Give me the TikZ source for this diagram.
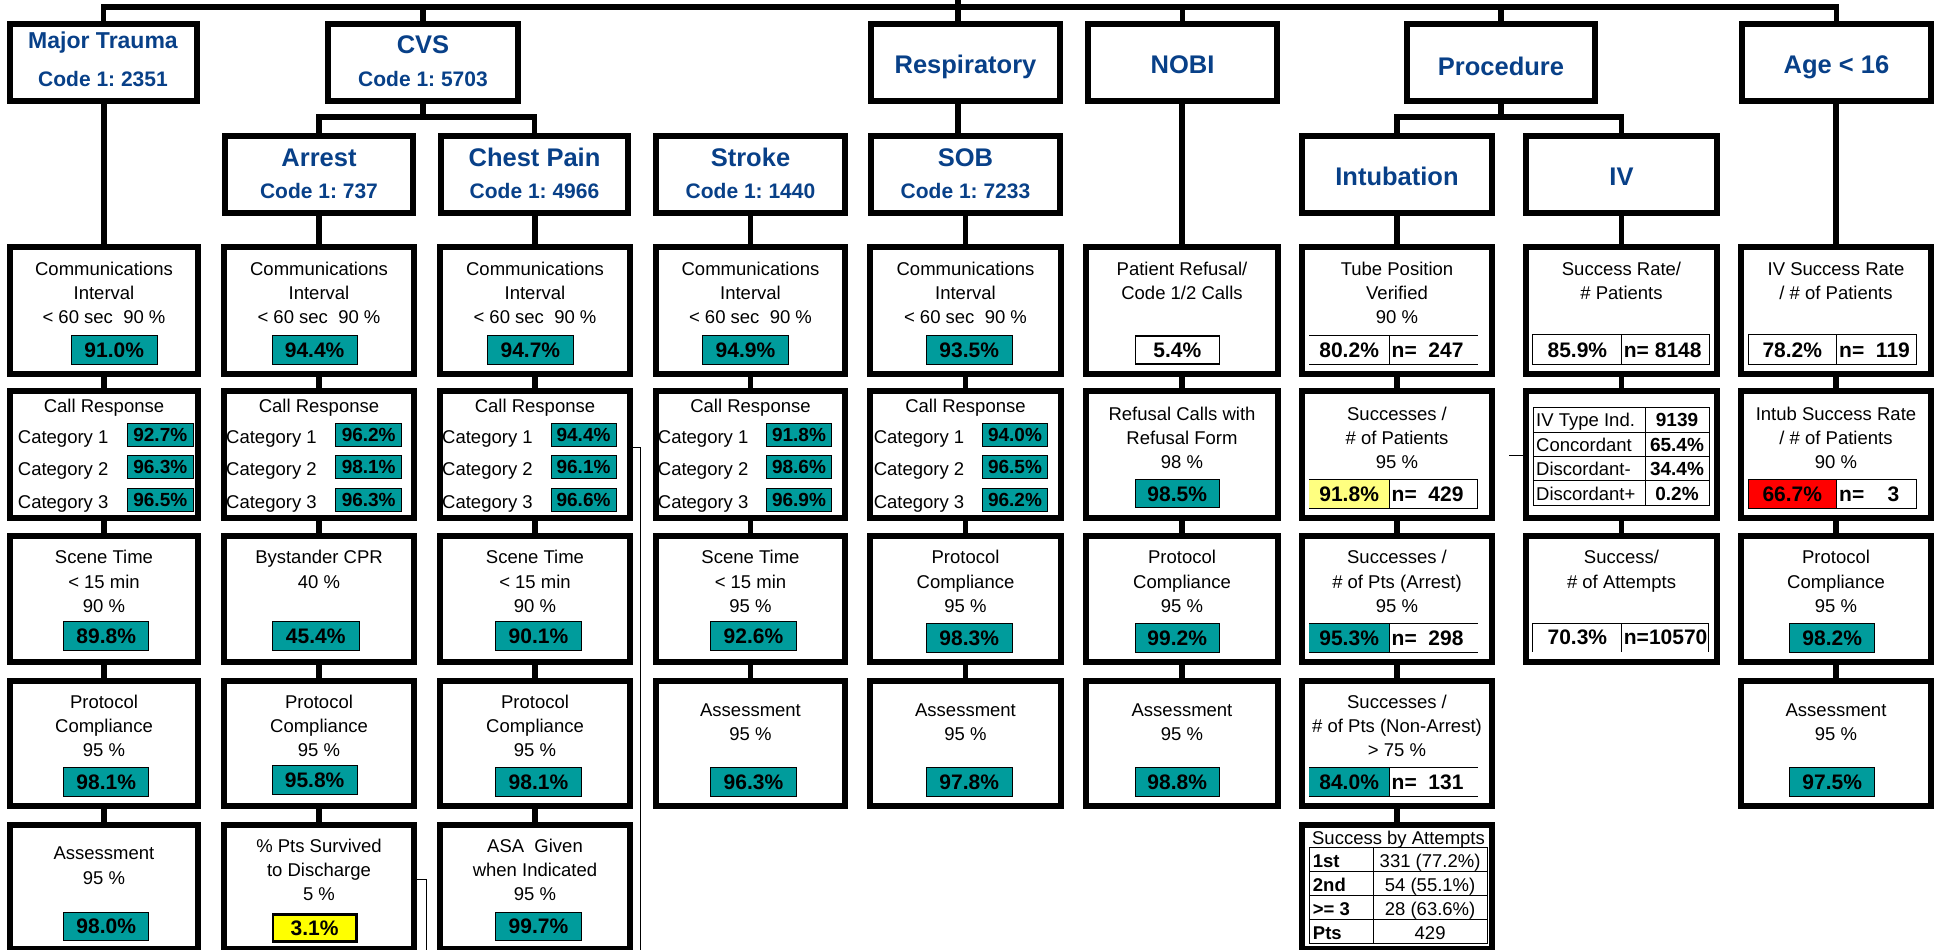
\documentclass[tikz,border=0pt]{standalone}
\usepackage{fontspec}
\setmainfont{Liberation Sans}
\frenchspacing
\definecolor{teal2}{HTML}{009C9C}
\definecolor{hblue}{HTML}{084088}
\definecolor{lyel}{HTML}{FFFF80}
\definecolor{yel}{HTML}{FFFF00}
\definecolor{red2}{HTML}{FF0000}
\newcommand\fbody{\fontsize{18.5}{22}\selectfont}
\newcommand\fbodyb{\fontsize{18.5}{22}\selectfont\bfseries}
\newcommand\fval{\fontsize{21}{25}\selectfont\bfseries}
\newcommand\fcat{\fontsize{19}{23}\selectfont\bfseries}
\newcommand\fhead{\fontsize{25.5}{30}\selectfont\bfseries}
\newcommand\fcode{\fontsize{21}{25}\selectfont\bfseries}
\tikzset{
 bxs/.style={draw=black, line width=6pt, fill=white, inner sep=0pt, rectangle},
 conn/.style={draw=black, line width=5.5pt},
 thinln/.style={draw=black, line width=1pt},
 txt/.style={inner sep=0pt, font=\fbody, text=black},
 htxt/.style={inner sep=0pt, font=\fhead, text=hblue, anchor=base},
 ctxt/.style={inner sep=0pt, font=\fcode, text=hblue, anchor=base},
 vbox/.style={draw=black, line width=1pt, inner sep=0pt, rectangle, font=\fval},
 cbox/.style={draw=black, line width=1pt, inner sep=0pt, rectangle, font=\fcat, fill=teal2},
 cell/.style={inner sep=0pt, rectangle, font=\fval},
 ntxt/.style={inner sep=0pt, font=\fval, anchor=west},
 gcell/.style={draw=black, line width=1pt, inner sep=0pt, rectangle},
}
\newcommand\myBX[5]{\node[bxs, minimum width={(#4-#2-6)*1pt}, minimum height={(#5-#3-6)*1pt}] (#1) at ({(#2+#4)/2},{(#3+#5)/2}) {};}
\newcommand\myTX[4]{\node[txt, anchor=base] (#1) at (#2,#3) {#4};}
\newcommand\myTL[4]{\node[txt, anchor=base west] (#1) at (#2,#3) {#4};}
\newcommand\myVB[7]{\node[vbox, fill=#6, minimum width={(#4-#2-1)*1pt}, minimum height={(#5-#3-1)*1pt}] (#1) at ({(#2+#4)/2},{(#3+#5)/2}) {#7};}
\newcommand\myCB[6]{\node[cbox, minimum width={(#4-#2-1)*1pt}, minimum height={(#5-#3-1)*1pt}] (#1) at ({(#2+#4)/2},{(#3+#5)/2}) {#6};}
\newcommand\myTT[8]{%
 \node[cell, fill=#7, minimum width={(#3-#2)*1pt}, minimum height={(#6-#5)*1pt}] (#1L) at ({(#2+#3)/2},{(#5+#6)/2}) {#8};
 \node[cell, minimum width={(#4-#3)*1pt}, minimum height={(#6-#5)*1pt}] (#1R) at ({(#3+#4)/2},{(#5+#6)/2}) {};}
\newcommand\myTwo[6]{\myTX{#1a}{#2}{#3}{#5}\myTX{#1b}{#2}{#4}{#6}}
\newcommand\myThree[8]{\myTX{#1a}{#2}{#3}{#6}\myTX{#1b}{#2}{#4}{#7}\myTX{#1c}{#2}{#5}{#8}}
\newcommand\myComm[5]{%
 \myThree{c#1r1}{#2}{275.5}{299.2}{323.5}{Communications}{Interval}{< 60 sec\ \ 90 \%}
 \myVB{c#1r1v}{#3}{335.3}{#4}{364.7}{teal2}{#5\%}}
\newcommand\myCall[8]{%
 \myTX{c#1r2a}{#2}{412.2}{Call Response}
 \myTL{c#1r2l1}{#3}{443.2}{Category 1}
 \myTL{c#1r2l2}{#3}{475.5}{Category 2}
 \myTL{c#1r2l3}{#3}{508.2}{Category 3}
 \myCB{c#1r2v1}{#4}{423}{#5}{447.3}{#6\%}
 \myCB{c#1r2v2}{#4}{455}{#5}{479}{#7\%}
 \myCB{c#1r2v3}{#4}{488}{#5}{512}{#8\%}}

\begin{document}
\begin{tikzpicture}[x=1pt,y=-1pt]
\fill[white] (0,0) rectangle (1936,950);
\useasboundingbox (0,0) rectangle (1936,950);

% heading boxes
\myBX{mt}{7}{21}{200}{104}
\myBX{cvs}{325}{21}{521}{104}
\myBX{resp}{868}{21}{1063}{104}
\myBX{nobi}{1085}{21}{1280}{104}
\myBX{proc}{1404}{21}{1598}{104}
\myBX{age}{1739}{21}{1934}{104}
\myBX{arr}{222}{133}{416}{216}
\myBX{chp}{438}{133}{631}{216}
\myBX{strk}{653}{133}{848}{216}
\myBX{sob}{868}{133}{1063}{216}
\myBX{intu}{1299}{133}{1495}{216}
\myBX{iv}{1523}{133}{1720}{216}

% row boxes
\foreach \cc/\xa/\xb/\nr in {1/7/201/5,2/221/417/5,3/437/633/5,4/653/848/4,5/867/1064/4,6/1083/1281/4,7/1299/1495/5,8/1523/1720/3,9/1738/1934/4}{
  \foreach \rr/\ya/\yb in {1/244/377,2/388/521,3/533/665,4/678/809,5/822/952}{
    \ifnum\rr>\nr\relax\else\myBX{c\cc r\rr}{\xa}{\ya}{\xb}{\yb}\fi
  }
}

% connectors
\coordinate (bar) at (0,7);
\coordinate (root) at (958,0);
\draw[conn] (mt.north) |- (age.north |- bar) -- (age.north);
\draw[conn] (root) -- (root |- resp.north);
\draw[conn] (cvs.north) -- (cvs.north |- bar);
\draw[conn] (nobi.north) -- (nobi.north |- bar);
\draw[conn] (proc.north) -- (proc.north |- bar);
\coordinate (cvsj) at (423,117);
\draw[conn] (cvs.south) -- (cvsj);
\draw[conn] (arr.north) |- (cvsj) -| (chp.north);
\coordinate (procj) at (1501,117);
\draw[conn] (proc.south) -- (procj);
\draw[conn] (intu.north) |- (procj) -| (iv.north);
\draw[conn] (root |- resp.south) -- (root |- sob.north);
\draw[conn] (c1r1.north |- mt.south) -- (c1r1.north);
\draw[conn] (c2r1.north |- arr.south) -- (c2r1.north);
\draw[conn] (c3r1.north |- chp.south) -- (c3r1.north);
\draw[conn] (c4r1.north |- strk.south) -- (c4r1.north);
\draw[conn] (c5r1.north |- sob.south) -- (c5r1.north);
\draw[conn] (c6r1.north |- nobi.south) -- (c6r1.north);
\draw[conn] (c7r1.north |- intu.south) -- (c7r1.north);
\draw[conn] (c8r1.north |- iv.south) -- (c8r1.north);
\draw[conn] (c9r1.north |- age.south) -- (c9r1.north);
\foreach \cc/\nr in {1/5,2/5,3/5,4/4,5/4,6/4,7/5,8/3,9/4}{
  \foreach \rr in {2,...,\nr}{
    \pgfmathtruncatemacro\pr{\rr-1}
    \draw[conn] (c\cc r\pr.south) -- (c\cc r\rr.north);
  }
}

% thin lines
\coordinate (ta) at (640,447.3); \coordinate (tb) at (640,950);
\draw[thinln] (c3r2.east |- ta) -- (ta) -- (tb);
\coordinate (tc) at (426,879); \coordinate (td) at (426,950);
\draw[thinln] (c2r5.east |- tc) -- (tc) -- (td);
\coordinate (te) at (1509,455.7);
\draw[thinln] (te) -- (c8r2.west |- te);

% heading texts
\node[htxt, font=\fontsize{23}{28}\selectfont\bfseries] (mtt) at (103,48.3) {Major Trauma};
\node[ctxt] (mtc) at (103,86) {Code 1: 2351};
\node[htxt] (cvst) at (423,53.3) {CVS};
\node[ctxt] (cvsc) at (423,86) {Code 1: 5703};
\node[htxt] (respt) at (965.5,74) {Respiratory};
\node[htxt] (nobit) at (1182.5,74) {NOBI};
\node[htxt] (proct) at (1501,75) {Procedure};
\node[htxt] (aget) at (1836.5,74) {Age < 16};
\node[htxt] (arrt) at (319,166.7) {Arrest};
\node[ctxt] (arrc) at (319,198.3) {Code 1: 737};
\node[htxt] (chpt) at (534.5,166.7) {Chest Pain};
\node[ctxt] (chpc) at (534.5,198.3) {Code 1: 4966};
\node[htxt] (strkt) at (750.5,166.7) {Stroke};
\node[ctxt] (strkc) at (750.5,198.3) {Code 1: 1440};
\node[htxt] (sobt) at (965.5,166.7) {SOB};
\node[ctxt] (sobc) at (965.5,198.3) {Code 1: 7233};
\node[htxt] (intut) at (1397,185) {Intubation};
\node[htxt] (ivt) at (1621.5,185) {IV};

% row 1
\myComm{1}{104}{70.7}{157.8}{91.0}
\myComm{2}{319}{271.5}{357.7}{94.4}
\myComm{3}{535}{487}{573.7}{94.7}
\myComm{4}{750.5}{702.3}{788.6}{94.9}
\myComm{5}{965.5}{926}{1012.5}{93.5}
\myTwo{c6r1}{1182}{275.5}{299.2}{Patient Refusal/}{Code 1/2 Calls}
\node[vbox, fill=white, line width=1.3pt, minimum width=84.2pt, minimum height=28.1pt] (c6r1v) at (1177.25,350) {5.4\%};
\myThree{c7r1}{1397}{275.5}{299.2}{323.5}{Tube Position}{Verified}{90 \%}
\myTwo{c8r1}{1621.5}{275.5}{299.2}{Success Rate/}{\# Patients}
\myTwo{c9r1}{1836}{275.5}{299.2}{IV Success Rate}{/ \# of Patients}

\myTT{c7r1t}{1309.4}{1388.9}{1477.5}{335.3}{364.3}{white}{80.2\%}
\node[ntxt] (c7r1n) at (1391.5,349.8) {n=\ \ 247};
\draw[thinln] (c7r1tL.north west) -- (c7r1tR.north east) (c7r1tL.south west) -- (c7r1tR.south east) (c7r1tL.north east) -- (c7r1tL.south east);
\myTT{c8r1t}{1533}{1621.7}{1709}{335}{364.7}{white}{85.9\%}
\node[ntxt] (c8r1n) at (1623.7,349.85) {n=\ 8148};
\draw[thinln] (c8r1tL.north west) rectangle (c8r1tR.south east) (c8r1tL.north east) -- (c8r1tL.south east);
\myTT{c9r1t}{1748.6}{1836}{1916.3}{335}{364.7}{white}{78.2\%}
\node[ntxt] (c9r1n) at (1839,349.85) {n=\ \ 119};
\draw[thinln] (c9r1tL.north west) rectangle (c9r1tR.south east) (c9r1tL.north east) -- (c9r1tL.south east);

% row 2
\myCall{1}{104}{17.7}{127}{193.6}{92.7}{96.3}{96.5}
\myCall{2}{319}{226}{335.4}{402}{96.2}{98.1}{96.3}
\myCall{3}{535}{442}{550.5}{616.6}{94.4}{96.1}{96.6}
\myCall{4}{750.5}{657.7}{766}{832}{91.8}{98.6}{96.9}
\myCall{5}{965.5}{873.6}{982}{1048}{94.0}{96.5}{96.2}
\myThree{c6r2}{1182}{420.5}{444.2}{468.2}{Refusal Calls with}{Refusal Form}{98 \%}
\myVB{c6r2v}{1134.5}{479.3}{1220}{508.3}{teal2}{98.5\%}
\myThree{c7r2}{1397}{420.5}{444.2}{468.2}{Successes /}{\# of Patients}{95 \%}
\myTT{c7r2t}{1309.4}{1388.9}{1477.5}{479.3}{508.3}{lyel}{91.8\%}
\node[ntxt] (c7r2n) at (1391.5,493.8) {n=\ \ 429};
\draw[thinln] (c7r2tL.north west) -- (c7r2tR.north east) -- (c7r2tR.south east) -- (c7r2tL.south west) (c7r2tL.north east) -- (c7r2tL.south east);
\foreach \jj/\lab/\val in {1/IV Type Ind./9139, 2/Concordant/65.4\%, 3/Discordant-/34.4\%, 4/Discordant+/0.2\%}{
  \pgfmathsetmacro\yc{407.7+(\jj-0.5)*24.4}
  \pgfmathsetmacro\yt{\yc+7}
  \node[gcell, minimum width=112pt, minimum height=24.4pt] (iv\jj L) at (1589,\yc) {};
  \node[gcell, minimum width=64pt, minimum height=24.4pt] (iv\jj R) at (1677,\yc) {};
  \node[txt, anchor=base west] (iv\jj a) at (1536,\yt) {\lab};
  \node[txt, font=\fcat, anchor=base] (iv\jj b) at (1677,\yt) {\val};
}
\myThree{c9r2}{1836}{420.5}{444.2}{468.2}{Intub Success Rate}{/ \# of Patients}{90 \%}
\myTT{c9r2t}{1748.6}{1836}{1916.3}{479.3}{508.3}{red2}{66.7\%}
\node[ntxt] (c9r2n) at (1839,493.8) {n=\ \ \ \ 3};
\draw[thinln] (c9r2tL.north west) rectangle (c9r2tR.south east) (c9r2tL.north east) -- (c9r2tL.south east);

% row 3
\myThree{c1r3}{104}{563.8}{588.8}{612.5}{Scene Time}{< 15 min}{90 \%}
\myVB{c1r3v}{63}{621}{149.4}{650.7}{teal2}{89.8\%}
\myTwo{c2r3}{319}{563.8}{588.8}{Bystander CPR}{40 \%}
\myVB{c2r3v}{271.5}{621}{360}{650.7}{teal2}{45.4\%}
\myThree{c3r3}{535}{563.8}{588.8}{612.5}{Scene Time}{< 15 min}{90 \%}
\myVB{c3r3v}{495.4}{621}{581.6}{650.7}{teal2}{90.1\%}
\myThree{c4r3}{750.5}{563.8}{588.8}{612.5}{Scene Time}{< 15 min}{95 \%}
\myVB{c4r3v}{710.3}{621}{796.6}{650.7}{teal2}{92.6\%}
\myThree{c5r3}{965.5}{563.8}{588.8}{612.5}{Protocol}{Compliance}{95 \%}
\myVB{c5r3v}{926}{623.3}{1012.5}{652.7}{teal2}{98.3\%}
\myThree{c6r3}{1182}{563.8}{588.8}{612.5}{Protocol}{Compliance}{95 \%}
\myVB{c6r3v}{1134.5}{623.3}{1220}{652.7}{teal2}{99.2\%}
\myThree{c7r3}{1397}{563.8}{588.8}{612.5}{Successes /}{\# of Pts (Arrest)}{95 \%}
\myTT{c7r3t}{1309.4}{1388.9}{1477.5}{623.3}{652.3}{teal2}{95.3\%}
\node[ntxt] (c7r3n) at (1391.5,637.8) {n=\ \ 298};
\draw[thinln] (c7r3tL.north west) -- (c7r3tR.north east) (c7r3tL.south west) -- (c7r3tR.south east) (c7r3tL.north east) -- (c7r3tL.south east);
\myTwo{c8r3}{1621.5}{563.8}{588.8}{Success/}{\# of Attempts}
\myTT{c8r3t}{1533}{1621.7}{1708}{623.3}{651.7}{white}{70.3\%}
\node[ntxt] (c8r3n) at (1623.7,637.5) {n=10570};
\draw[thinln] (c8r3tL.south west) -- (c8r3tL.north west) -- (c8r3tR.north east) -- (c8r3tR.south east) (c8r3tL.north east) -- (c8r3tL.south east);
\myThree{c9r3}{1836}{563.8}{588.8}{612.5}{Protocol}{Compliance}{95 \%}
\myVB{c9r3v}{1789.4}{623.3}{1875}{652.7}{teal2}{98.2\%}

% row 4
\myThree{c1r4}{104}{708.2}{732.2}{756.5}{Protocol}{Compliance}{95 \%}
\myVB{c1r4v}{63}{767.3}{149.4}{796.7}{teal2}{98.1\%}
\myThree{c2r4}{319}{708.2}{732.2}{756.5}{Protocol}{Compliance}{95 \%}
\myVB{c2r4v}{271.5}{765.3}{357.7}{794.7}{teal2}{95.8\%}
\myThree{c3r4}{535}{708.2}{732.2}{756.5}{Protocol}{Compliance}{95 \%}
\myVB{c3r4v}{495.4}{767.3}{581.6}{796.7}{teal2}{98.1\%}
\myTwo{c4r4}{750.5}{716.5}{740.5}{Assessment}{95 \%}
\myVB{c4r4v}{710.3}{767.3}{796.6}{796.7}{teal2}{96.3\%}
\myTwo{c5r4}{965.5}{716.5}{740.5}{Assessment}{95 \%}
\myVB{c5r4v}{926}{767.3}{1012.5}{796.7}{teal2}{97.8\%}
\myTwo{c6r4}{1182}{716.5}{740.5}{Assessment}{95 \%}
\myVB{c6r4v}{1134.5}{767.3}{1220}{796.7}{teal2}{98.8\%}
\myThree{c7r4}{1397}{708.2}{732.2}{756.5}{Successes /}{\# of Pts (Non-Arrest)}{> 75 \%}
\myTT{c7r4t}{1309.4}{1388.9}{1477.5}{767.3}{796.7}{teal2}{84.0\%}
\node[ntxt] (c7r4n) at (1391.5,782) {n=\ \ 131};
\draw[thinln] (c7r4tL.north west) -- (c7r4tR.north east) (c7r4tL.south west) -- (c7r4tR.south east) (c7r4tL.north east) -- (c7r4tL.south east);
\myTwo{c9r4}{1836}{716.5}{740.5}{Assessment}{95 \%}
\myVB{c9r4v}{1789.4}{767.3}{1875}{796.7}{teal2}{97.5\%}

% row 5
\myTwo{c1r5}{104}{859.8}{884.2}{Assessment}{95 \%}
\myVB{c1r5v}{63}{911.7}{149.4}{940.7}{teal2}{98.0\%}
\myThree{c2r5}{319}{852.5}{876.5}{900.5}{\% Pts Survived}{to Discharge}{5 \%}
\node[vbox, fill=yel, line width=2.5pt, minimum width=83.7pt, minimum height=26.9pt] (c2r5v) at (314.6,928) {3.1\%};
\myThree{c3r5}{535}{852.5}{876.5}{900.5}{ASA\ \ Given}{when Indicated}{95 \%}
\myVB{c3r5v}{495.4}{911.7}{581.6}{940.7}{teal2}{99.7\%}
\myTX{c7r5a}{1398.5}{844.2}{Success by Attempts}
\foreach \jj/\lab/\val in {1/1st/331 (77.2\%), 2/2nd/54 (55.1\%), 3/>= 3/28 (63.6\%), 4/Pts/429}{
  \pgfmathsetmacro\yc{847.7+(\jj-0.5)*23.9}
  \pgfmathsetmacro\yt{\yc+8}
  \node[gcell, minimum width=63.8pt, minimum height=23.9pt] (sa\jj L) at (1341.3,\yc) {};
  \node[gcell, minimum width=113.8pt, minimum height=23.9pt] (sa\jj R) at (1430.1,\yc) {};
  \node[txt, font=\fbodyb, anchor=base west] (sa\jj a) at (1312.7,\yt) {\lab};
  \node[txt, anchor=base] (sa\jj b) at (1430.1,\yt) {\val};
}
\end{tikzpicture}
\end{document}
